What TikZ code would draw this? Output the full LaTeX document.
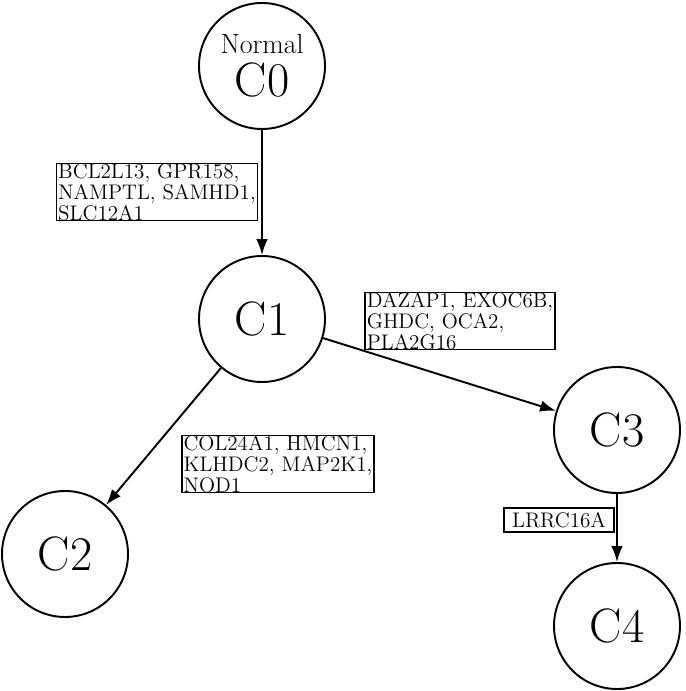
\documentclass[tikz,border=0pt]{standalone}
\usepackage{amsmath}
\usepackage{tikz}
\usetikzlibrary{arrows.meta}

\begin{document}
\begin{tikzpicture}[
    clone/.style={draw, circle, line width=1.1pt, minimum size=2.52cm, inner sep=0pt, align=center, font=\fontsize{27.5}{30}\selectfont},
    genes/.style={draw, line width=0.9pt, inner xsep=1pt, inner ysep=0pt, align=left, font=\fontsize{12}{10.3}\selectfont},
    edge/.style={-{Latex[length=9pt,width=6.5pt]}, line width=1.1pt}
]
    \useasboundingbox (0,0) rectangle (13.7,13.82);

    % Clones
    \node[clone] (C0) at (5.24,12.50) {{\fontsize{15.8}{16}\selectfont Normal}\\[-5.6pt]C0};
    \node[clone] (C1) at (5.24,7.44) {C1};
    \node[clone] (C2) at (1.30,2.74) {C2};
    \node[clone] (C3) at (12.34,5.22) {C3};
    \node[clone] (C4) at (12.34,1.30) {C4};

    % Tree edges
    \draw[edge] (C0) -- (C1);
    \draw[edge] (C1) -- (C2);
    \draw[edge] (C1) -- (C3);
    \draw[edge] (C3) -- (C4);

    % Gene labels
    \node[genes] (g01) at (3.14,9.98) {BCL2L13, GPR158,\\NAMPTL, SAMHD1,\\SLC12A1};
    \node[genes] (g13) at (9.20,7.40) {DAZAP1, EXOC6B,\\GHDC, OCA2,\\PLA2G16};
    \node[genes] (g12) at (5.56,4.54) {COL24A1, HMCN1,\\KLHDC2, MAP2K1,\\NOD1};
    \node[genes, inner xsep=4.5pt, inner ysep=2.5pt] (g34) at (11.18,3.42) {LRRC16A};
\end{tikzpicture}
\end{document}
